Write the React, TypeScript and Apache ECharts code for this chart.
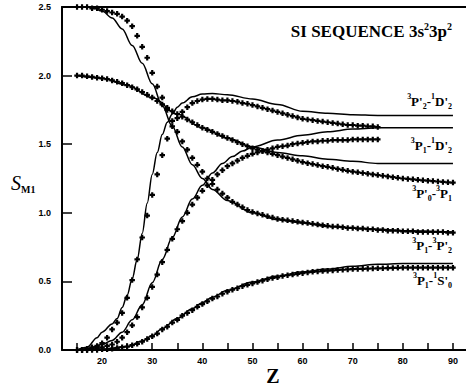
import React, { useEffect, useRef } from "react";
import * as echarts from "echarts";

// Z values of the computed points (dots)
const Z_TO_90 = [15,16,17,18,19,20,21,22,23,24,25,26,27,28,29,30,31,32,33,34,35,36,37,38,39,40,41,42,43,44,45,46,47,48,49,50,51,52,53,54,55,56,57,58,59,60,61,62,63,64,65,66,67,68,69,70,71,72,73,74,75,76,77,78,79,80,81,82,83,84,85,86,87,88,89,90];
const Z_TO_75 = [15,16,17,18,19,20,21,22,23,24,25,26,27,28,29,30,31,32,33,34,35,36,37,38,39,40,41,42,43,44,45,46,47,48,49,50,51,52,53,54,55,56,57,58,59,60,61,62,63,64,65,66,67,68,69,70,71,72,73,74,75];

// 3P1 - 3P'2 (starts at 2.5)
const A_DOTS = [2.50,2.50,2.50,2.49,2.49,2.48,2.47,2.46,2.45,2.43,2.40,2.36,2.29,2.21,2.13,2.02,1.92,1.84,1.75,1.67,1.59,1.52,1.46,1.40,1.35,1.30,1.25,1.21,1.17,1.14,1.11,1.08,1.06,1.04,1.02,1.005,0.995,0.985,0.975,0.965,0.955,0.95,0.945,0.94,0.935,0.93,0.925,0.92,0.915,0.91,0.905,0.90,0.90,0.895,0.89,0.89,0.885,0.885,0.88,0.88,0.875,0.875,0.87,0.87,0.87,0.865,0.865,0.865,0.86,0.86,0.86,0.86,0.86,0.86,0.855,0.855];
const A_LINE_Z = [15,18,20,22,24,26,28,30,32,34,36,38,40,42,45,50,55,60,65,70,75,80,90];
const A_LINE_S = [2.50,2.50,2.47,2.42,2.34,2.22,2.09,1.94,1.78,1.63,1.48,1.35,1.25,1.17,1.09,1.00,0.95,0.925,0.90,0.89,0.88,0.87,0.86];

// 3P'0 - 3P1 (starts at 2.0)
const B_DOTS = [2.00,2.00,1.995,1.99,1.985,1.98,1.975,1.965,1.955,1.945,1.93,1.915,1.90,1.88,1.86,1.84,1.815,1.79,1.765,1.74,1.72,1.70,1.68,1.66,1.64,1.62,1.605,1.59,1.575,1.56,1.545,1.53,1.515,1.50,1.485,1.47,1.46,1.45,1.44,1.43,1.42,1.41,1.40,1.39,1.38,1.37,1.362,1.355,1.348,1.34,1.335,1.328,1.32,1.313,1.306,1.30,1.295,1.29,1.285,1.28,1.275,1.27,1.265,1.26,1.255,1.25,1.247,1.244,1.24,1.237,1.234,1.231,1.228,1.225,1.222,1.22];
const B_LINE_Z = [15,20,25,30,35,40,45,50,55,60,65,70,75,80,90];
const B_LINE_S = [2.00,1.98,1.93,1.84,1.72,1.62,1.545,1.48,1.44,1.415,1.39,1.375,1.36,1.36,1.36];

// 3P1 - 1D'2
const C_DOTS = [0.00,0.00,0.00,0.01,0.015,0.02,0.03,0.04,0.06,0.09,0.13,0.18,0.24,0.31,0.38,0.46,0.55,0.64,0.73,0.81,0.88,0.94,1.00,1.06,1.11,1.16,1.20,1.24,1.28,1.31,1.34,1.36,1.38,1.40,1.415,1.43,1.44,1.45,1.46,1.47,1.48,1.485,1.49,1.50,1.505,1.51,1.515,1.52,1.52,1.525,1.525,1.53,1.53,1.53,1.53,1.535,1.535,1.535,1.535,1.535,1.535];
const C_LINE_Z = [15,17,20,22,24,26,28,30,32,34,36,38,40,42,44,46,48,50,55,60,65,70,75,80,90];
const C_LINE_S = [0.00,0.01,0.04,0.07,0.13,0.22,0.33,0.49,0.66,0.82,0.97,1.10,1.20,1.29,1.36,1.41,1.45,1.48,1.53,1.565,1.59,1.61,1.62,1.62,1.62];

// 3P'2 - 1D'2
const D_DOTS = [0.00,0.00,0.01,0.02,0.03,0.05,0.09,0.15,0.20,0.27,0.38,0.51,0.66,0.82,0.98,1.13,1.28,1.42,1.54,1.63,1.69,1.735,1.77,1.80,1.815,1.825,1.83,1.83,1.825,1.82,1.82,1.815,1.81,1.80,1.795,1.785,1.775,1.765,1.755,1.745,1.735,1.725,1.715,1.705,1.695,1.685,1.68,1.675,1.67,1.665,1.66,1.655,1.65,1.645,1.64,1.64,1.635,1.635,1.63,1.63,1.625];
const D_LINE_Z = [15,17,19,20,22,23,24,25,26,27,28,29,30,31,32,33,34,35,36,38,40,42,45,50,55,60,65,70,75,80,90];
const D_LINE_S = [0.00,0.02,0.09,0.13,0.19,0.23,0.31,0.40,0.52,0.66,0.85,1.07,1.28,1.44,1.57,1.66,1.72,1.77,1.80,1.845,1.865,1.87,1.86,1.83,1.79,1.74,1.725,1.715,1.71,1.71,1.71];

// 3P1 - 1S'0
const E_DOTS = [0.00,0.00,0.00,0.00,0.00,0.005,0.005,0.01,0.015,0.02,0.025,0.035,0.045,0.06,0.08,0.10,0.12,0.15,0.17,0.20,0.22,0.25,0.27,0.29,0.315,0.335,0.355,0.375,0.39,0.41,0.425,0.44,0.45,0.465,0.475,0.485,0.495,0.505,0.515,0.525,0.53,0.54,0.545,0.55,0.555,0.56,0.565,0.57,0.572,0.575,0.578,0.58,0.583,0.585,0.587,0.59,0.591,0.592,0.593,0.594,0.595,0.596,0.597,0.598,0.599,0.60,0.60,0.60,0.60,0.60,0.60,0.60,0.60,0.60,0.60,0.60];
const E_LINE_Z = [15,20,25,28,30,32,35,38,40,42,45,50,55,60,65,70,75,80,90];
const E_LINE_S = [0.00,0.005,0.025,0.065,0.105,0.155,0.23,0.30,0.345,0.385,0.435,0.495,0.54,0.57,0.59,0.61,0.625,0.63,0.63];

const X_TICKS = [15,20,25,30,35,40,45,50,55,60,65,70,75,80,85,90];
const X_LABELS = [20,30,40,50,60,70,80,90];

const PLUS = "path://M3,0H7V3H10V7H7V10H3V7H0V3H3Z";

const pairs = (zs: number[], ss: number[]) => zs.map((z, i) => [z, ss[i]]);

const SERIF = "'Liberation Serif', 'Times New Roman', serif";

export default function App() {
  const ref = useRef<HTMLDivElement>(null);
  useEffect(() => {
    if (!ref.current) return;
    const chart = echarts.init(ref.current, null, { renderer: "svg" });

    const lineSeries = (name: string, zs: number[], ss: number[]) => ({
      name,
      type: "line",
      data: pairs(zs, ss),
      showSymbol: false,
      symbol: "none",
      smooth: 0.35,
      smoothMonotone: "x",
      lineStyle: { color: "#000", width: 1.5 },
      z: 3,
    });
    const dotSeries = (name: string, zs: number[], ss: number[]) => ({
      name,
      type: "line",
      data: pairs(zs, ss),
      symbol: PLUS,
      symbolSize: 5.5,
      showSymbol: true,
      lineStyle: { width: 0, opacity: 0 },
      itemStyle: { color: "#000" },
      z: 4,
    });

    const main = { fontFamily: SERIF, fontWeight: "bold", fontSize: 13, lineHeight: 18, color: "#000" };
    const sup = { fontFamily: SERIF, fontWeight: "bold", fontSize: 8, lineHeight: 8, verticalAlign: "top", color: "#000" };
    const sub = { fontFamily: SERIF, fontWeight: "bold", fontSize: 8, lineHeight: 8, verticalAlign: "bottom", color: "#000" };
    const rich = { m: main, p: sup, b: sub };

    const label = (text: string, y: number) => ({
      type: "text",
      x: 452,
      y,
      style: {
        text,
        rich,
        align: "right",
        verticalAlign: "middle",
        fontFamily: SERIF,
        fontWeight: "bold",
        fontSize: 13,
        fill: "#000",
      },
      z: 10,
    });

    chart.setOption({
      animation: false,
      backgroundColor: "#fff",
      grid: { left: 62, top: 7, right: 0, bottom: 36, containLabel: false },
      xAxis: [
        {
          type: "value",
          min: 12,
          max: 92.6,
          axisLine: { show: true, lineStyle: { color: "#000", width: 2 } },
          axisTick: { show: true, inside: true, length: 7, customValues: X_TICKS, lineStyle: { color: "#000", width: 1.5 } },
          axisLabel: {
            customValues: X_LABELS,
            color: "#000",
            fontSize: 9,
            fontWeight: "bold",
            fontFamily: "'Liberation Sans', Arial, sans-serif",
            margin: 6,
          },
          splitLine: { show: false },
        },
        {
          type: "value",
          position: "top",
          min: 12,
          max: 92.6,
          axisLine: { show: true, lineStyle: { color: "#000", width: 2 } },
          axisTick: { show: false },
          axisLabel: { show: false },
          splitLine: { show: false },
        },
      ],
      yAxis: {
        type: "value",
        min: 0,
        max: 2.5,
        interval: 0.5,
        axisLine: { show: true, lineStyle: { color: "#000", width: 2 } },
        axisTick: { show: true, inside: true, length: 10, lineStyle: { color: "#000", width: 1.5 } },
        axisLabel: {
          color: "#000",
          fontSize: 9,
          fontWeight: "bold",
          fontFamily: "'Liberation Sans', Arial, sans-serif",
          margin: 11,
          formatter: (v: number) => v.toFixed(1),
        },
        splitLine: { show: false },
      },
      series: [
        lineSeries("3P1-3P'2 theory", A_LINE_Z, A_LINE_S),
        dotSeries("3P1-3P'2", Z_TO_90, A_DOTS),
        lineSeries("3P'0-3P1 theory", B_LINE_Z, B_LINE_S),
        dotSeries("3P'0-3P1", Z_TO_90, B_DOTS),
        lineSeries("3P1-1D'2 theory", C_LINE_Z, C_LINE_S),
        dotSeries("3P1-1D'2", Z_TO_75, C_DOTS),
        lineSeries("3P'2-1D'2 theory", D_LINE_Z, D_LINE_S),
        dotSeries("3P'2-1D'2", Z_TO_75, D_DOTS),
        lineSeries("3P1-1S'0 theory", E_LINE_Z, E_LINE_S),
        dotSeries("3P1-1S'0", Z_TO_90, E_DOTS),
      ],
      graphic: [
        {
          type: "text",
          x: 452,
          y: 31,
          style: {
            text: "{t|SI SEQUENCE 3s}{s|2}{t|3p}{s|2}",
            rich: {
              t: { fontFamily: SERIF, fontWeight: "bold", fontSize: 17, lineHeight: 20, color: "#000" },
              s: { fontFamily: SERIF, fontWeight: "bold", fontSize: 10, lineHeight: 10, verticalAlign: "top", color: "#000" },
            },
            align: "right",
            verticalAlign: "middle",
            fill: "#000",
          },
        },
        label("{p|3}{m|P'}{b|2}{m|-}{p|1}{m|D'}{b|2}", 101),
        label("{p|3}{m|P}{b|1}{m|-}{p|1}{m|D'}{b|2}", 145),
        label("{p|3}{m|P'}{b|0}{m|-}{p|3}{m|P}{b|1}", 193),
        label("{p|3}{m|P}{b|1}{m|-}{p|3}{m|P'}{b|2}", 245),
        label("{p|3}{m|P}{b|1}{m|-}{p|1}{m|S'}{b|0}", 280),
        {
          type: "text",
          x: 11,
          y: 183,
          style: {
            text: "{s|S}{m|M1}",
            rich: {
              s: { fontFamily: SERIF, fontStyle: "italic", fontSize: 20, lineHeight: 22, color: "#000" },
              m: { fontFamily: SERIF, fontWeight: "bold", fontSize: 10, lineHeight: 10, verticalAlign: "bottom", color: "#000" },
            },
            align: "left",
            verticalAlign: "middle",
            fill: "#000",
          },
        },
        {
          type: "text",
          x: 273,
          y: 376,
          style: {
            text: "Z",
            fontFamily: SERIF,
            fontWeight: "bold",
            fontSize: 20,
            align: "center",
            verticalAlign: "middle",
            fill: "#000",
          },
        },
      ],
    });
    return () => chart.dispose();
  }, []);

  return (
    <div
      ref={ref}
      style={{ position: "absolute", left: 0, top: 0, width: 466, height: 386, background: "#fff" }}
    />
  );
}
